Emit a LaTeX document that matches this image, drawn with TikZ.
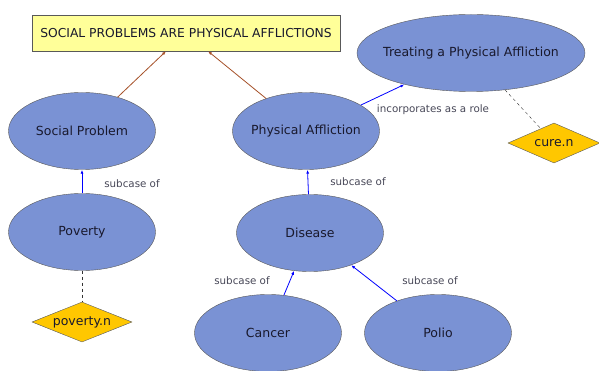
\documentclass[tikz,border=0pt]{standalone}
\usepackage{fontspec}
\setmainfont{DejaVu Sans}
\usetikzlibrary{shapes.geometric,arrows.meta,shadows}

\definecolor{conceptblue}{RGB}{122,146,212}
\definecolor{frameyellow}{RGB}{255,255,153}
\definecolor{lexgold}{RGB}{255,199,0}
\definecolor{inkdark}{RGB}{25,25,45}
\definecolor{inheritbrown}{RGB}{165,80,40}

\tikzset{
  concept/.style={ellipse, draw=gray!70!black, fill=conceptblue, text=inkdark,
    minimum width=147pt, minimum height=77pt, inner xsep=-10pt, inner ysep=0pt, font=\fontsize{12.5}{15}\selectfont},
  frame/.style={rectangle, draw=gray!70!black, fill=frameyellow, text=inkdark,
    minimum width=308pt, minimum height=36pt, drop shadow={shadow xshift=1pt, shadow yshift=-1pt, opacity=0.3},
    font=\fontsize{12.3}{15}\selectfont},
  lexunit/.style={diamond, draw=gray!70!black, fill=lexgold, text=inkdark, aspect=2.5,
    minimum width=100pt, minimum height=40pt, inner sep=0pt, font=\fontsize{12.5}{15}\selectfont},
  lbl/.style={text=inkdark!80, font=\fontsize{10.3}{12}\selectfont},
  sub/.style={draw=blue, thick, -{Latex[length=4pt,width=3pt]}},
  inherit/.style={draw=inheritbrown, thick, -{Latex[length=4pt,width=3pt]}},
  evokes/.style={draw=black!80, dashed}
}

\begin{document}
\begin{tikzpicture}[x=1pt, y=-1pt]
  \useasboundingbox (0,0) rectangle (599,371);

  % Define nodes
  \node[frame] (F) at (186,33) {SOCIAL PROBLEMS ARE PHYSICAL AFFLICTIONS};
  \node[concept] (SP) at (82,131) {Social Problem};
  \node[concept] (PA) at (306,131) {Physical Affliction};
  \node[concept, minimum width=228pt] (TPA) at (471,53) {Treating a Physical Affliction};
  \node[lexunit, minimum width=92pt] (cure) at (554,143) {cure.n};
  \node[concept] (Pov) at (82,232) {Poverty};
  \node[lexunit] (povn) at (82,322) {poverty.n};
  \node[concept] (Dis) at (310,233) {Disease};
  \node[concept] (Can) at (268,333) {Cancer};
  \node[concept] (Pol) at (438,333) {Polio};

  % Connect the nodes
  \draw[inherit] (SP) -- (F.south -| 166,0);
  \draw[inherit] (PA) -- (F.south -| 208,0);
  \draw[sub] (PA) -- (TPA);
  \draw[evokes] (TPA) -- (cure);
  \draw[sub] (Pov) -- (SP);
  \draw[evokes] (Pov) -- (povn);
  \draw[sub] (Dis) -- (PA);
  \draw[sub] (Can) -- (Dis);
  \draw[sub] (Pol) -- (Dis);

  % Labels
  \node[lbl] (l1) at (132,184) {subcase of};
  \node[lbl] (l2) at (358,182) {subcase of};
  \node[lbl] (l3) at (242,281) {subcase of};
  \node[lbl] (l4) at (430,281) {subcase of};
  \node[lbl] (l5) at (433,110) {incorporates as a role};
\end{tikzpicture}
\end{document}
